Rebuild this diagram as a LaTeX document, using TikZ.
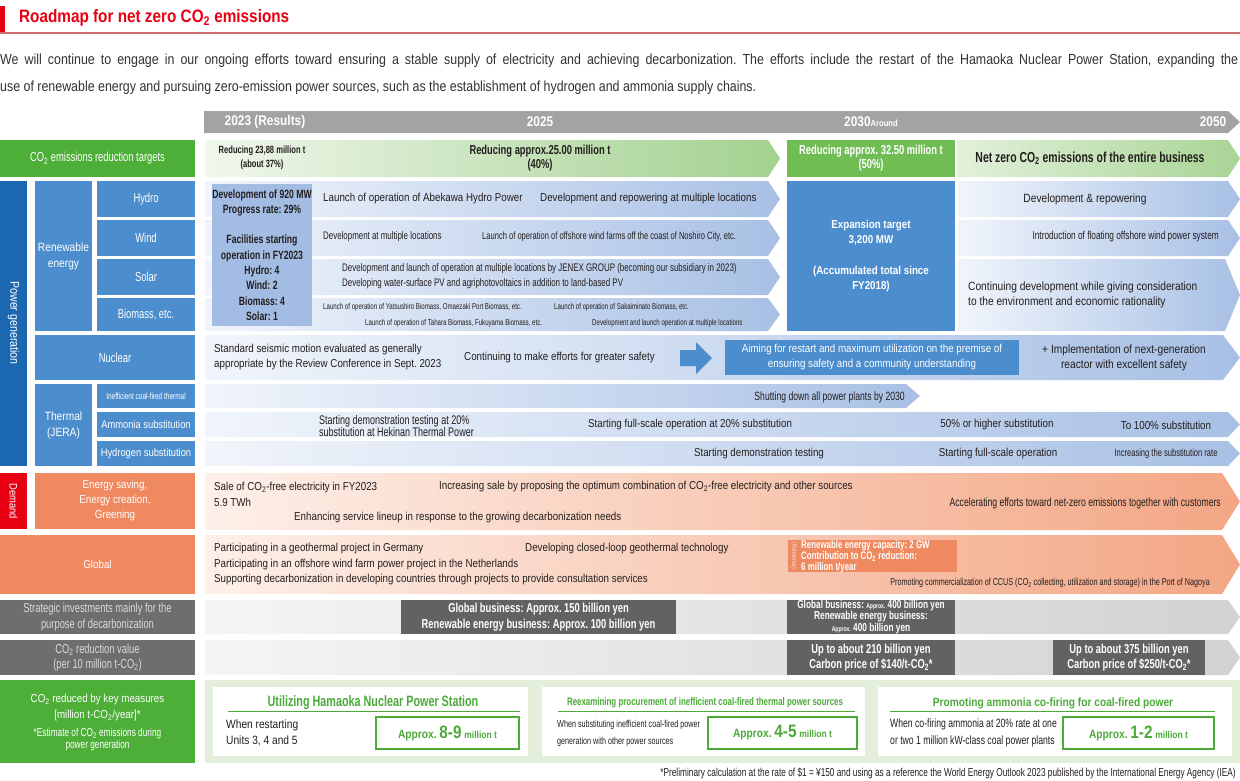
\documentclass[tikz,border=0pt]{standalone}
\usepackage{fontspec}
\setmainfont{Liberation Sans}[FakeStretch=0.85]
\newfontfamily\cond{Liberation Sans}[FakeStretch=0.72]
\frenchspacing

\definecolor{titlered}{RGB}{230,0,18}
\definecolor{titleline}{RGB}{205,110,115}
\definecolor{txt}{RGB}{35,30,30}
\definecolor{introtxt}{RGB}{50,50,50}
\definecolor{hdgrey}{RGB}{163,163,163}
\definecolor{pgblue}{RGB}{28,104,176}
\definecolor{mblue}{RGB}{76,141,205}
\definecolor{resblue}{RGB}{162,188,227}
\definecolor{blueA}{RGB}{241,245,251}
\definecolor{blueB}{RGB}{168,192,229}
\definecolor{grn}{RGB}{77,174,56}
\definecolor{mgrn}{RGB}{112,189,84}
\definecolor{grnA}{RGB}{240,247,236}
\definecolor{grnB}{RGB}{163,209,143}
\definecolor{grnC}{RGB}{226,241,219}
\definecolor{grnD}{RGB}{168,212,148}
\definecolor{salmon}{RGB}{239,137,95}
\definecolor{salA}{RGB}{253,240,233}
\definecolor{salB}{RGB}{243,166,132}
\definecolor{dred}{RGB}{230,0,18}
\definecolor{lgrey}{RGB}{110,110,110}
\definecolor{dgrey}{RGB}{98,98,98}
\definecolor{gryA}{RGB}{245,245,245}
\definecolor{gryB}{RGB}{210,210,210}
\definecolor{panel}{RGB}{227,239,219}
\definecolor{pgrn}{RGB}{76,170,58}

\newcommand{\fs}[2]{\fontsize{#1}{#2}\selectfont}
\newcommand{\cotwo}{CO\textsubscript{2}}
% x1 y1 x2 y2 tip leftcolour rightcolour
\newcommand{\rowarrow}[7]{%
  \shade[left color=#6,right color=#7] (#1,#2) -- (#3-#5,#2) -- (#3,{(#2+#4)/2})
    -- (#3-#5,#4) -- (#1,#4) -- cycle;}

\tikzset{
  bx/.style 2 args={minimum width=#1, minimum height=#2},
  lab/.style={text=white, align=center, font=\cond\fs{13}{15.5}},
  body/.style={font=\fs{11.5}{15.5}},
  bodyl/.style={font=\fs{11.5}{15.5}, align=left, anchor=west},
  wbox/.style={text=white, align=center, font=\cond\bfseries\fs{13}{15.5}},
  hdr/.style={text=white, font=\bfseries\fs{14}{16}},
  ttl/.style={text=pgrn, font=\cond\bfseries\fs{15}{17}},
  amt/.style={draw=pgrn, line width=1.5pt, fill=white},
}

\begin{document}
\begin{tikzpicture}[x=1pt,y=-1pt,every node/.style={inner sep=0pt,text=txt}]
\useasboundingbox (0,0) rectangle (1240,780);

% title and introduction
\fill[titlered] (0,6) rectangle (5,32);
\node[anchor=west, text=titlered, font=\bfseries\fs{18}{20}] (title) at (19,18) {Roadmap for net zero \cotwo\ emissions};
\draw[titleline, line width=1.6pt] (0,33) -- (1240,33);
\node[anchor=west, text=introtxt, font=\fs{14.6}{16}] (intro1) at (0,61)
  {\makebox[1238pt][s]{We will continue to engage in our ongoing efforts toward ensuring a stable supply of electricity and achieving decarbonization. The efforts include the restart of the Hamaoka Nuclear Power Station, expanding the}};
\node[anchor=west, text=introtxt, font=\fs{14.6}{16}] (intro2) at (0,88)
  {use of renewable energy and pursuing zero-emission power sources, such as the establishment of hydrogen and ammonia supply chains.};

% time axis
\fill[hdgrey] (204,111) -- (1228,111) -- (1240,122) -- (1228,133) -- (204,133) -- cycle;
\node[hdr] (y23) at (265,122) {2023 (Results)};
\node[hdr] (y25) at (540,122) {2025};
\node[hdr] (y30) at (871,122) {2030{\fs{9}{9}Around}};
\node[hdr] (y50) at (1213,122) {2050};

% reduction targets
\node[fill=grn, bx={195pt}{37pt}, lab] (tgt) at (97.5,158.5) {\cotwo\ emissions reduction targets};
\rowarrow{205}{140}{780}{177}{12}{grnA}{grnB}
\node[font=\cond\bfseries\fs{10.5}{14}, align=center] (r23) at (262,158) {Reducing 23,88 million t\\(about 37\%)};
\node[font=\cond\bfseries\fs{13}{14}, align=center] (r25) at (540,158) {Reducing approx.25.00 million t\\(40\%)};
\node[fill=mgrn, bx={168pt}{37pt}, wbox, font=\cond\bfseries\fs{13}{14}] (r30) at (871,158.5) {Reducing approx. 32.50 million t\\(50\%)};
\rowarrow{957}{140}{1240}{177}{12}{grnC}{grnD}
\node[font=\cond\bfseries\fs{14.5}{16}] (nz) at (1090,158) {Net zero \cotwo\ emissions of the entire business};

% power generation
\fill[pgblue] (0,181) rectangle (27,466);
\node[rotate=-90, text=white, font=\fs{12.5}{14}] (pg) at (13.5,323) {Power generation};
\node[fill=mblue, bx={57pt}{150pt}, lab, font=\fs{12}{16}] (ren) at (63.5,256) {Renewable\\energy};
\node[fill=mblue, bx={98pt}{36pt}, lab] (hydro) at (146,199) {Hydro};
\node[fill=mblue, bx={98pt}{36pt}, lab] (wind) at (146,238) {Wind};
\node[fill=mblue, bx={98pt}{36pt}, lab] (solar) at (146,277) {Solar};
\node[fill=mblue, bx={98pt}{33pt}, lab] (bio) at (146,314.5) {Biomass, etc.};

\rowarrow{205}{181}{780}{217}{12}{blueA}{blueB}
\rowarrow{205}{220}{780}{256}{12}{blueA}{blueB}
\rowarrow{205}{259}{780}{295}{12}{blueA}{blueB}
\rowarrow{205}{298}{780}{331}{12}{blueA}{blueB}
\node[fill=resblue, bx={100pt}{142pt}, align=center, font=\cond\bfseries\fs{12}{15.3}] (res) at (262,255)
  {Development of 920 MW\\Progress rate: 29\%\\[15.3pt]Facilities starting\\operation in FY2023\\Hydro: 4\\Wind: 2\\Biomass: 4\\Solar: 1};
\node[body, anchor=west] (abe) at (323,199) {Launch of operation of Abekawa Hydro Power};
\node[body, anchor=west] (hrep) at (540,199) {Development and repowering at multiple locations};
\node[anchor=west, font=\cond\fs{11}{13}] (wdev) at (323,237) {Development at multiple locations};
\node[anchor=west, font=\cond\fs{10.5}{13}] (nosh) at (482,237) {Launch of operation of offshore wind farms off the coast of Noshiro City, etc.};
\node[anchor=west, align=left, font=\cond\fs{11}{15}] (jenex) at (342,276)
  {Development and launch of operation at multiple locations by JENEX GROUP (becoming our subsidiary in 2023)\\Developing water-surface PV and agriphotovoltaics in addition to land-based PV};
\node[anchor=west, font=\cond\fs{8.5}{10}] (yats) at (323,307) {Launch of operation of Yatsushiro Biomass, Omaezaki Port Biomass, etc.};
\node[anchor=west, font=\cond\fs{8.5}{10}] (saka) at (554,307) {Launch of operation of Sakaiminato Biomass, etc.};
\node[anchor=west, font=\cond\fs{8.5}{10}] (taha) at (365,323) {Launch of operation of Tahara Biomass, Fukuyama Biomass, etc.};
\node[anchor=west, font=\cond\fs{8.5}{10}] (bdev) at (592,323) {Development and launch operation at multiple locations};

\node[fill=mblue, bx={168pt}{150pt}, text=white, align=center, font=\bfseries\fs{11.5}{15.5}] (exp) at (871,256)
  {Expansion target\\3,200 MW\\[15pt](Accumulated total since\\FY2018)};
\rowarrow{958}{181}{1240}{217}{12}{blueA}{blueB}
\rowarrow{958}{220}{1240}{256}{12}{blueA}{blueB}
\rowarrow{958}{259}{1240}{331}{15}{blueA}{blueB}
\node[body, font=\fs{12}{15.5}] (drep) at (1085,199) {Development \& repowering};
\node[anchor=east, font=\cond\fs{11.5}{13}] (float) at (1219,237) {Introduction of floating offshore wind power system};
\node[bodyl, font=\fs{12}{15.5}] (cont) at (968,295) {Continuing development while giving consideration\\ to the environment and economic rationality};

% nuclear
\node[fill=mblue, bx={160pt}{45pt}, lab] (nuc) at (115,357.5) {Nuclear};
\rowarrow{205}{335}{1240}{380}{17}{blueA}{blueB}
\node[bodyl] (seis) at (214,357) {Standard seismic motion evaluated as generally\\appropriate by the Review Conference in Sept. 2023};
\node[body, anchor=west] (safe) at (464,358) {Continuing to make efforts for greater safety};
\fill[mblue] (680,350) -- (696,350) -- (696,342) -- (712,358) -- (696,374) -- (696,366) -- (680,366) -- cycle;
\node[fill=mblue, bx={294pt}{35pt}, text=white, align=center, font=\fs{11.5}{15}] (aim) at (872,357.5)
  {Aiming for restart and maximum utilization on the premise of\\ensuring safety and a community understanding};
\node[body, align=center, font=\fs{12}{15}] (next) at (1124,358) {+ Implementation of next-generation\\reactor with excellent safety};

% thermal
\node[fill=mblue, bx={57pt}{82pt}, lab, font=\fs{12}{16}] (therm) at (63.5,425) {Thermal\\(JERA)};
\node[fill=mblue, bx={98pt}{24pt}, lab, font=\cond\fs{9}{10}] (coal) at (146,396) {Inefficient coal-fired thermal};
\node[fill=mblue, bx={98pt}{25pt}, lab, font=\fs{11}{12}] (amm) at (146,424.5) {Ammonia substitution};
\node[fill=mblue, bx={98pt}{25pt}, lab, font=\fs{11}{12}] (hyd) at (146,453.5) {Hydrogen substitution};
\rowarrow{205}{384}{920}{408}{14}{blueA}{blueB}
\rowarrow{205}{412}{1240}{437}{12}{blueA}{blueB}
\rowarrow{205}{441}{1240}{466}{12}{blueA}{blueB}
\node[anchor=east, font=\cond\fs{12}{13}] (shut) at (905,397) {Shutting down all power plants by 2030};
\node[anchor=west, align=left, font=\cond\fs{12.5}{11}] (hek) at (319,426) {Starting demonstration testing at 20\%\\substitution at Hekinan Thermal Power};
\node[body, anchor=west] (a20) at (588,425) {Starting full-scale operation at 20\% substitution};
\node[body] (a50) at (997,425) {50\% or higher substitution};
\node[body] (a100) at (1166,425) {To 100\% substitution};
\node[body] (hdemo) at (759,454) {Starting demonstration testing};
\node[body] (hfull) at (998,454) {Starting full-scale operation};
\node[font=\cond\fs{10.5}{12}] (hrate) at (1166,454) {Increasing the substitution rate};

% demand
\fill[dred] (0,473) rectangle (27,529);
\node[rotate=-90, text=white, font=\fs{11}{12}] (dem) at (13.5,501) {Demand};
\node[fill=salmon, bx={160pt}{56pt}, lab, font=\fs{11.5}{15}] (save) at (115,501) {Energy saving,\\Energy creation,\\Greening};
\rowarrow{205}{473}{1240}{530}{18}{salA}{salB}
\node[bodyl] (sale) at (214,494.5) {Sale of \cotwo-free electricity in FY2023\\5.9 TWh};
\node[body, anchor=west] (incr) at (439,487) {Increasing sale by proposing the optimum combination of \cotwo-free electricity and other sources};
\node[body, anchor=west] (enh) at (294,518) {Enhancing service lineup in response to the growing decarbonization needs};
\node[anchor=east, font=\cond\fs{12}{13}] (acc) at (1221,503) {Accelerating efforts toward net-zero emissions together with customers};

% global
\node[fill=salmon, bx={195pt}{59pt}, lab, font=\fs{11.5}{13}] (glob) at (97.5,564.5) {Global};
\rowarrow{205}{535}{1240}{594}{18}{salA}{salB}
\node[bodyl] (geo) at (214,564.5) {Participating in a geothermal project in Germany\\Participating in an offshore wind farm power project in the Netherlands\\Supporting decarbonization in developing countries through projects to provide consultation services};
\node[body, anchor=west] (loop) at (525,549) {Developing closed-loop geothermal technology};
\node[fill=salmon, bx={169pt}{32pt}] (refb) at (872.5,556) {};
\node[rotate=-90, text=white!75!salmon, font=\cond\fs{7}{8}] (refl) at (794,556) {(Reference)};
\node[anchor=west, align=left, text=white, font=\cond\bfseries\fs{11}{9.5}] (refx) at (801,556.5)
  {Renewable energy capacity: 2 GW\\Contribution to \cotwo\ reduction:\\6 million t/year};
\node[anchor=east, font=\cond\fs{10}{12}] (ccus) at (1210,583) {Promoting commercialization of CCUS (\cotwo\ collecting, utilization and storage) in the Port of Nagoya};

% investments and value
\node[fill=lgrey, bx={195pt}{34pt}, lab, text=white!85!black] (strat) at (97.5,617) {Strategic investments mainly for the\\purpose of decarbonization};
\rowarrow{205}{600}{1240}{634}{12}{gryA}{gryB}
\node[fill=dgrey, bx={275pt}{34pt}, wbox] (inv1) at (538.5,617) {Global business: Approx. 150 billion yen\\Renewable energy business: Approx. 100 billion yen};
\node[fill=dgrey, bx={168pt}{34pt}, wbox, font=\cond\bfseries\fs{11.5}{10.5}] (inv2) at (871,617)
  {Global business: {\fs{7}{8}Approx.} 400 billion yen\\Renewable energy business:\\{\fs{7}{8}Approx.} 400 billion yen};
\node[fill=lgrey, bx={195pt}{35pt}, lab, text=white!85!black] (val) at (97.5,657.5) {\cotwo\ reduction value\\(per 10 million t-\cotwo)};
\rowarrow{205}{640}{1240}{675}{12}{gryA}{gryB}
\node[fill=dgrey, bx={168pt}{35pt}, wbox] (val1) at (871,657.5) {Up to about 210 billion yen\\Carbon price of \$140/t-\cotwo*};
\node[fill=dgrey, bx={152pt}{35pt}, wbox] (val2) at (1129,657.5) {Up to about 375 billion yen\\Carbon price of \$250/t-\cotwo*};

% key measures
\node[fill=grn, bx={195pt}{83pt}] (key) at (97.5,721.5) {};
\node[text=white, align=center, font=\fs{11.5}{16}] (keyt) at (97.5,708) {\cotwo\ reduced by key measures\\{[}million t-\cotwo/year{]}*};
\node[text=white, align=center, font=\cond\fs{11.5}{12}] (keyn) at (97.5,740) {*Estimate of \cotwo\ emissions during\\power generation};
\node[fill=panel, bx={1035pt}{83pt}] (pan) at (722.5,721.5) {};
\node[fill=white, bx={315pt}{69pt}] (p1) at (370.5,721.5) {};
\node[fill=white, bx={323pt}{69pt}] (p2) at (703.5,721.5) {};
\node[fill=white, bx={354pt}{69pt}] (p3) at (1055,721.5) {};
\node[ttl] (p1t) at (373,703) {Utilizing Hamaoka Nuclear Power Station};
\node[ttl, font=\cond\bfseries\fs{11}{12}] (p2t) at (705,703) {Reexamining procurement of inefficient coal-fired thermal power sources};
\node[ttl, font=\bfseries\fs{12}{13}] (p3t) at (1053,703) {Promoting ammonia co-firing for coal-fired power};
\draw[pgrn] (228,711) -- (520,711);
\draw[pgrn] (558,711) -- (855,711);
\draw[pgrn] (890,711) -- (1215,711);
\node[anchor=west, align=left, font=\fs{12}{16}] (p1d) at (226,733) {When restarting\\Units 3, 4 and 5};
\node[anchor=west, align=left, font=\cond\fs{10}{17}] (p2d) at (557,733) {When substituting inefficient coal-fired power\\generation with other power sources};
\node[anchor=west, align=left, font=\cond\fs{12}{17}] (p3d) at (890,733) {When co-firing ammonia at 20\% rate at one\\or two 1 million kW-class coal power plants};
\node[amt, bx={143pt}{32pt}] (a1) at (447.5,733) {};
\node[amt, bx={149pt}{32pt}] (a2) at (782.5,733) {};
\node[amt, bx={151pt}{32pt}] (a3) at (1138.5,733) {};
\node[text=pgrn, font=\bfseries\fs{12}{14}] (a1t) at (a1) {Approx. {\fs{18}{18}8-9} {\fs{10}{12}million t}};
\node[text=pgrn, font=\bfseries\fs{12}{14}] (a2t) at (a2) {Approx. {\fs{18}{18}4-5} {\fs{10}{12}million t}};
\node[text=pgrn, font=\bfseries\fs{12}{14}] (a3t) at (a3) {Approx. {\fs{18}{18}1-2} {\fs{10}{12}million t}};

\node[anchor=east, font=\cond\fs{11.5}{12}] (foot) at (1236,773) {*Preliminary calculation at the rate of \$1 = ¥150 and using as a reference the World Energy Outlook 2023 published by the International Energy Agency (IEA)};
\end{tikzpicture}
\end{document}
